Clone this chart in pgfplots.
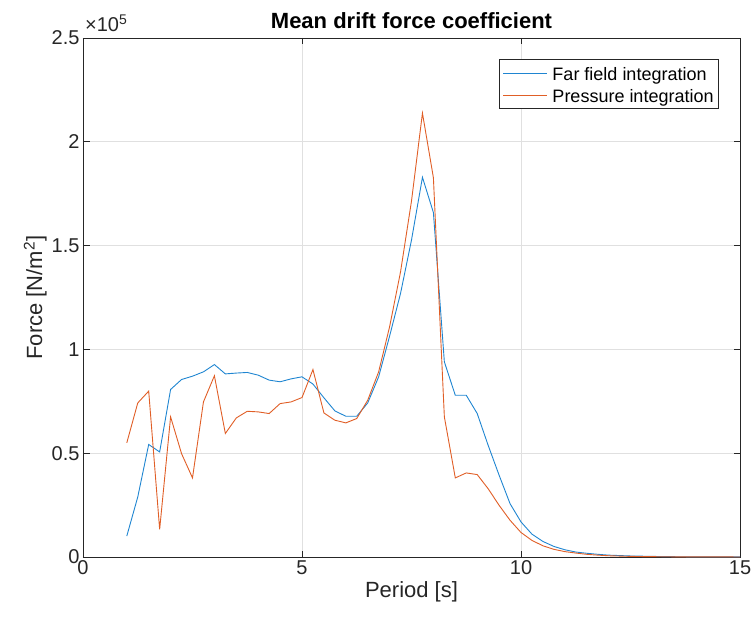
\documentclass[border=0pt]{standalone}
\usepackage{pgfplots}
\pgfplotsset{compat=1.18}
\usepackage{fontspec}
\setmainfont{Liberation Sans}
\definecolor{mblue}{rgb}{0.12,0.52,0.82}
\definecolor{morange}{rgb}{0.88,0.37,0.15}
\definecolor{mtext}{HTML}{262626}
\begin{document}
\begin{tikzpicture}
\path[use as bounding box] (-83pt,-64pt) rectangle (668pt,557pt);
\begin{axis}[
 at={(0pt,0pt)}, anchor=south west,
 scale only axis, width=657pt, height=519pt,
 xmin=0, xmax=15, ymin=0, ymax=2.5,
 xtick={0,5,10,15}, ytick={0,0.5,1,1.5,2,2.5},
 xticklabels={0,5,10,15},
 yticklabels={0,0.5,1,1.5,2,2.5},
 clip=false,
 grid=major, grid style={color=black!12, line width=0.7pt},
 axis line style={color=mtext, line width=0.9pt},
 tick style={color=mtext, line width=0.9pt},
 major tick length=6.5pt, tick align=inside,
 tick label style={font=\fontsize{20}{24}\selectfont, color=mtext},
 /pgf/number format/assume math mode=true,
 xlabel={Period [s]}, ylabel={Force [N/m\textsuperscript{2}]},
 label style={font=\fontsize{22}{26}\selectfont, color=mtext},
 ylabel style={yshift=-2pt},
 title={Mean drift force coefficient},
 title style={font=\fontsize{22}{26}\selectfont\bfseries, color=black},
 legend style={at={(0.968,0.959)}, anchor=north east, draw=mtext, line width=0.8pt,
   font=\fontsize{18}{23}\selectfont, text=black, inner xsep=3pt, inner ysep=3pt},
 legend cell align=left,
 legend image code/.code={\draw[#1, line width=0.9pt] (0pt,0pt) -- (44pt,0pt); \path (47pt,0pt);},
]
\addplot[mblue, line width=0.9pt] coordinates {
(1.00,0.101) (1.25,0.289) (1.50,0.542) (1.75,0.506) (2.00,0.807) (2.25,0.855)
(2.50,0.871) (2.75,0.892) (3.00,0.927) (3.25,0.882) (3.50,0.886) (3.75,0.889)
(4.00,0.876) (4.25,0.852) (4.50,0.844) (4.75,0.858) (5.00,0.868) (5.25,0.833)
(5.50,0.767) (5.75,0.704) (6.00,0.678) (6.25,0.678) (6.50,0.742) (6.75,0.868)
(7.00,1.064) (7.25,1.270) (7.50,1.527) (7.75,1.829) (8.00,1.659) (8.25,0.940)
(8.50,0.779) (8.75,0.779) (9.00,0.691) (9.25,0.538) (9.50,0.394) (9.75,0.257)
(10.00,0.169) (10.25,0.110) (10.50,0.075) (10.75,0.051) (11.00,0.035) (11.25,0.024)
(11.50,0.018) (11.75,0.013) (12.00,0.009) (12.25,0.007) (12.50,0.005) (12.75,0.004)
(13.00,0.003) (13.25,0.002) (13.50,0.0015) (13.75,0.001) (14.00,0.0008) (14.25,0.0006)
(14.50,0.0005) (14.75,0.0004) (15.00,0.0003)
};
\addlegendentry{\strut Far field integration}
\addplot[morange, line width=0.9pt] coordinates {
(1.00,0.550) (1.25,0.742) (1.50,0.799) (1.75,0.133) (2.00,0.675) (2.25,0.498)
(2.50,0.381) (2.75,0.747) (3.00,0.873) (3.25,0.595) (3.50,0.670) (3.75,0.702)
(4.00,0.699) (4.25,0.691) (4.50,0.739) (4.75,0.747) (5.00,0.768) (5.25,0.903)
(5.50,0.694) (5.75,0.659) (6.00,0.646) (6.25,0.667) (6.50,0.755) (6.75,0.892)
(7.00,1.109) (7.25,1.374) (7.50,1.715) (7.75,2.138) (8.00,1.827) (8.25,0.675)
(8.50,0.381) (8.75,0.405) (9.00,0.397) (9.25,0.329) (9.50,0.249) (9.75,0.177)
(10.00,0.118) (10.25,0.080) (10.50,0.054) (10.75,0.037) (11.00,0.026) (11.25,0.019)
(11.50,0.013) (11.75,0.009) (12.00,0.006) (12.25,0.0045) (12.50,0.003) (12.75,0.0022)
(13.00,0.0016) (13.25,0.0012) (13.50,0.0009) (13.75,0.0007) (14.00,0.0005) (14.25,0.0004)
(14.50,0.0003) (14.75,0.0003) (15.00,0.0002)
};
\addlegendentry{\strut Pressure integration}
\node[anchor=base west, font=\fontsize{20}{24}\selectfont, text=mtext, inner sep=0pt]
  at ([xshift=2pt,yshift=6pt]rel axis cs:0,1) {×10\textsuperscript{5}};
\end{axis}
\end{tikzpicture}
\end{document}
